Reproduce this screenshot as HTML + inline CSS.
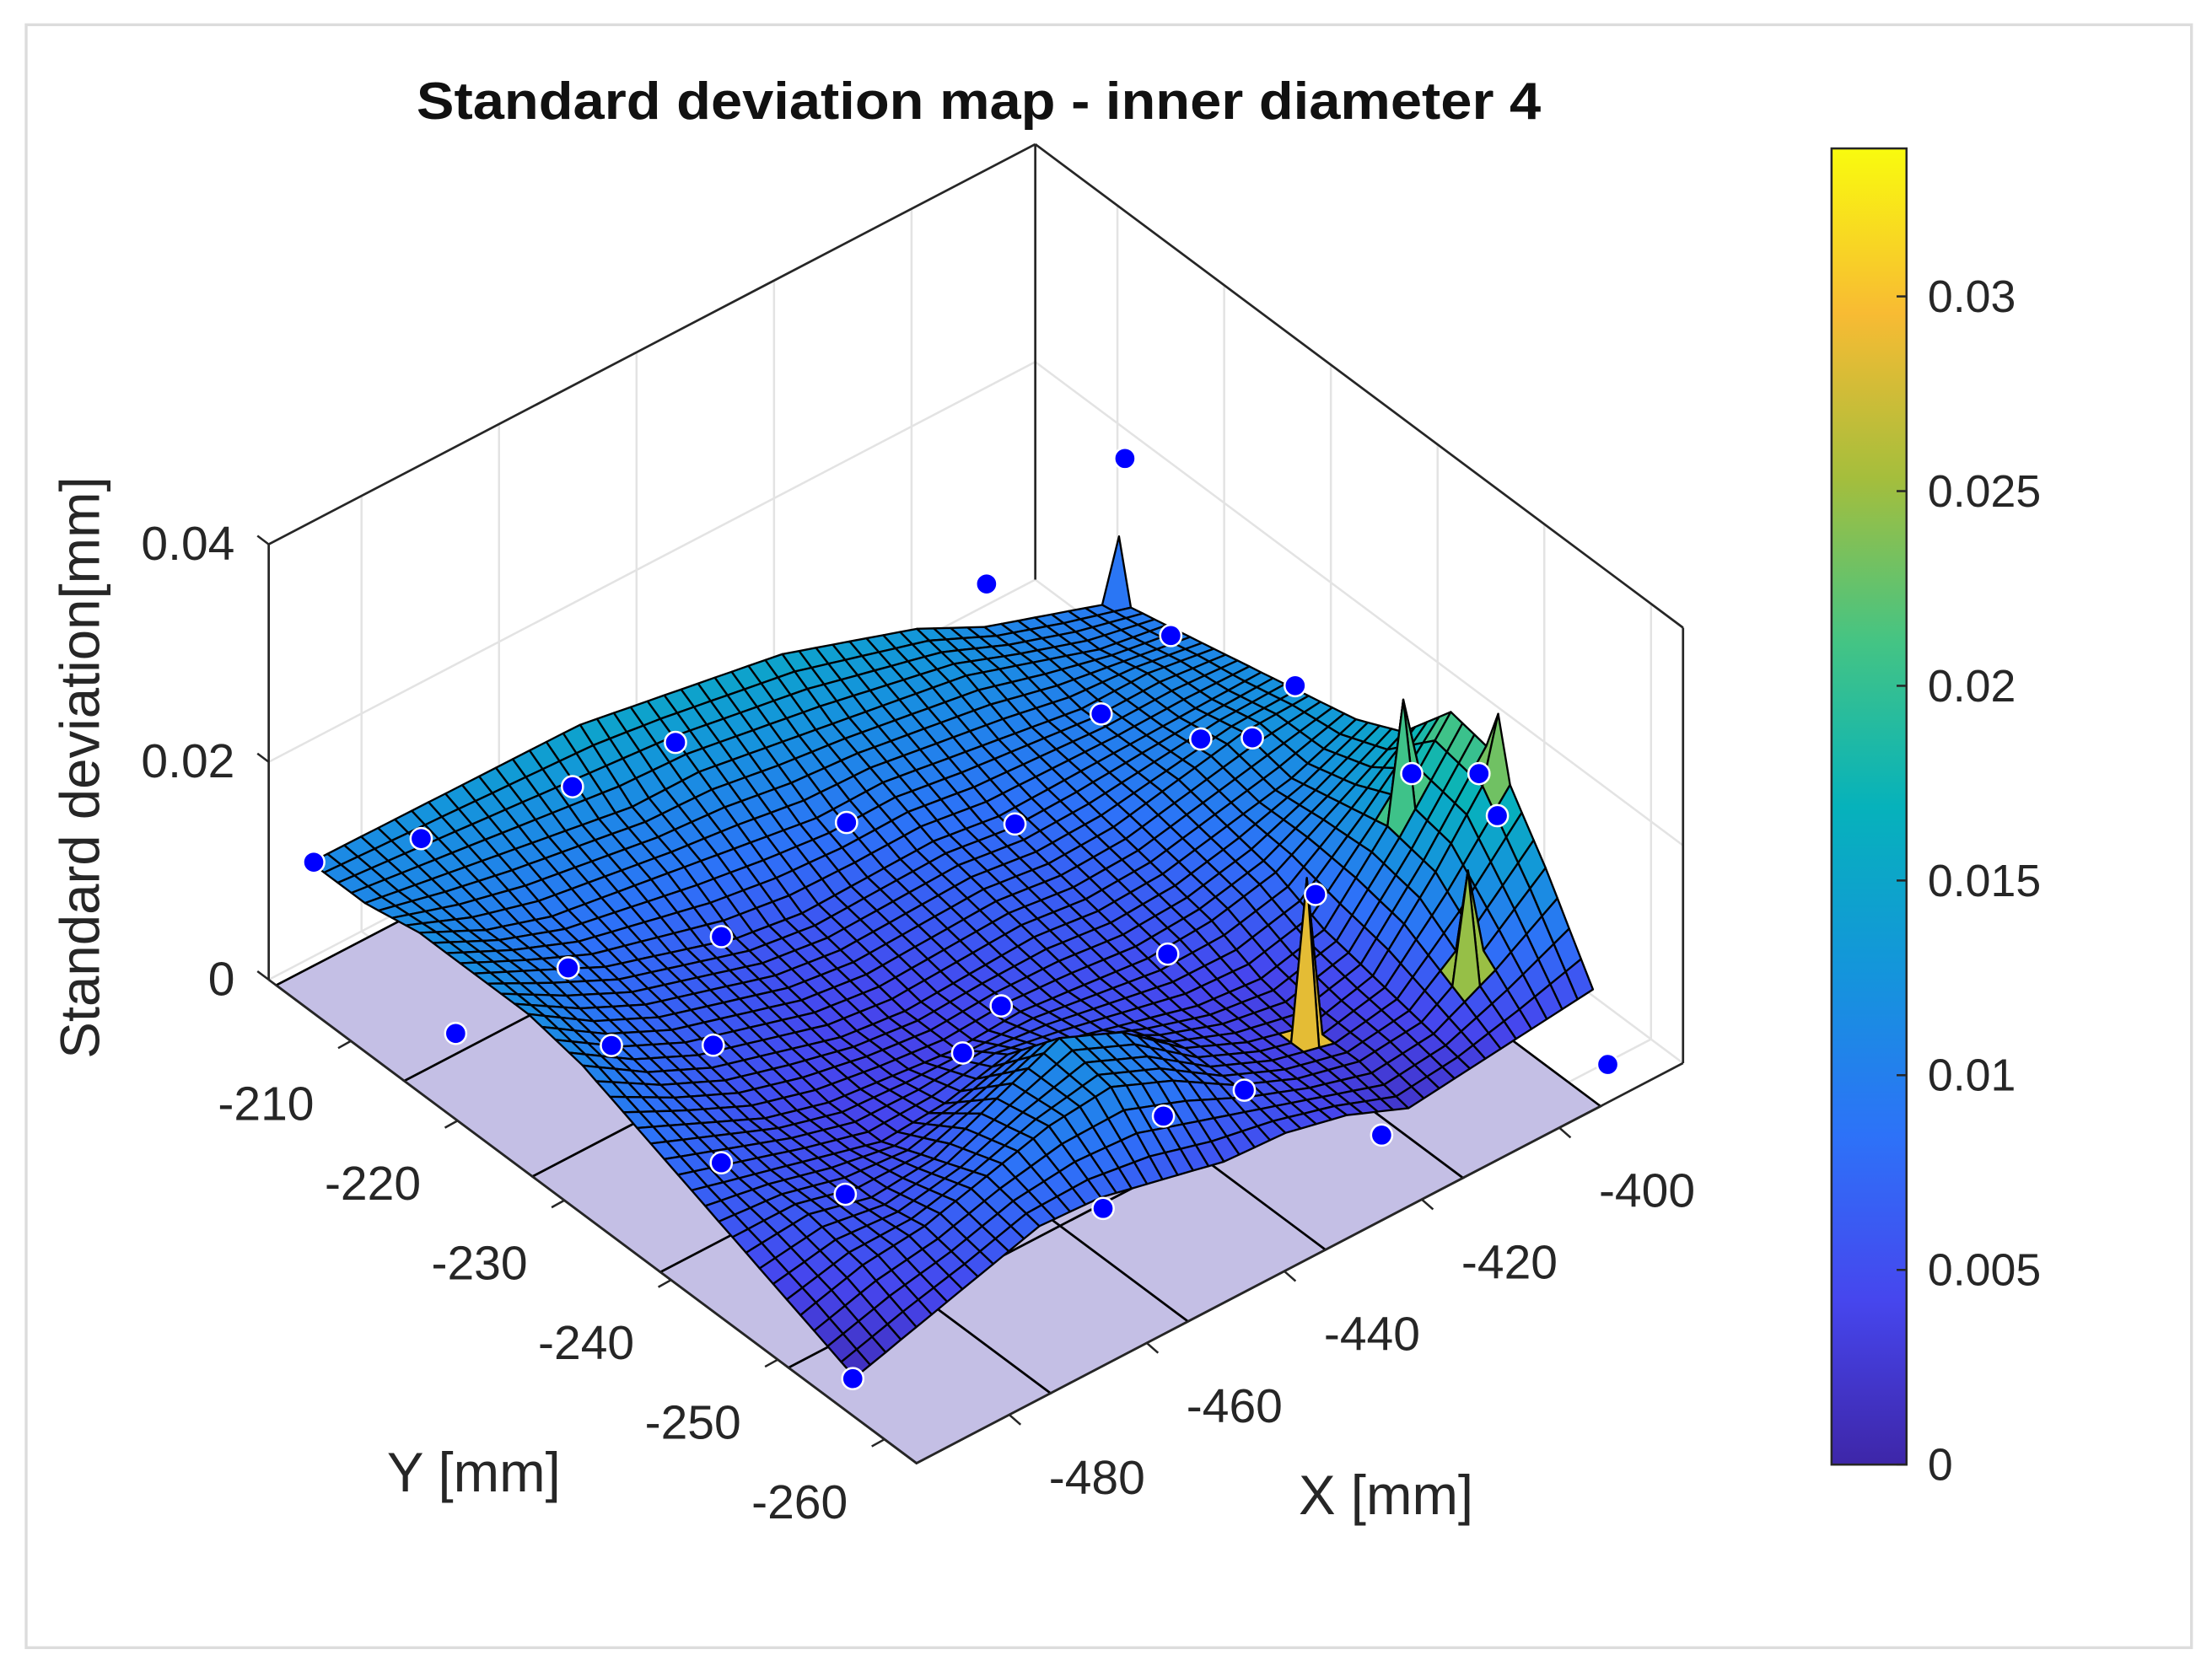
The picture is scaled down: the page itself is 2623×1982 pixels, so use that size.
<!DOCTYPE html>
<html><head><meta charset="utf-8"><title>Standard deviation map</title>
<style>
html,body{margin:0;padding:0;background:#fff;}
svg{display:block;}
text{font-family:"Liberation Sans",Arial,sans-serif;}
</style></head>
<body>
<svg id="chart" width="2623" height="1982" viewBox="0 0 1564 1182" preserveAspectRatio="none" xmlns="http://www.w3.org/2000/svg">
<rect x="18.5" y="17.5" width="1531" height="1148" fill="#fff" stroke="#dcdcdc" stroke-width="2"/>
<text x="692" y="84" font-size="37" font-weight="bold" text-anchor="middle" textLength="795" lengthAdjust="spacingAndGlyphs" fill="#111">Standard deviation map - inner diameter 4</text>
<g id="walls"></g>
<g id="floor"></g>
<g id="surface"></g>
<g id="dots"></g>
<g id="axes"></g>
<text transform="translate(70,543) rotate(-90)" font-size="39" text-anchor="middle" fill="#262626">Standard deviation[mm]</text>
<text x="335" y="1055" font-size="39" text-anchor="middle" fill="#262626">Y [mm]</text>
<text x="980" y="1071" font-size="39" text-anchor="middle" fill="#262626">X [mm]</text>
<defs>
<linearGradient id="parula" x1="0" y1="1" x2="0" y2="0">
<stop offset="0" stop-color="#3e26a8"/><stop offset="0.125" stop-color="#4646ee"/><stop offset="0.25" stop-color="#2d72f8"/><stop offset="0.375" stop-color="#1495db"/><stop offset="0.5" stop-color="#06b2bb"/><stop offset="0.625" stop-color="#44c484"/><stop offset="0.75" stop-color="#a5be3c"/><stop offset="0.875" stop-color="#f8bb33"/><stop offset="1" stop-color="#f9fb0e"/>
</linearGradient>
</defs>
<rect x="1295" y="105" width="53" height="931" fill="url(#parula)" stroke="#262626" stroke-width="1.5"/>
<g id="cbticks"></g>
</svg>
<script>
// ---- data ----
const xTicks = [-480, -460, -440, -420, -400];
const yTicks = [-260, -250, -240, -230, -220, -210];
const zTicks = [0, 0.02, 0.04];
const zTickLabels = ["0", "0.02", "0.04"];
const cbTicks = [0, 0.005, 0.01, 0.015, 0.02, 0.025, 0.03];
const cbTickLabels = ["0", "0.005", "0.01", "0.015", "0.02", "0.025", "0.03"];
// measured area corners (front-left, front-right, back-right, back-left) in mm
const surfCornerX = [-490.2, -387.5, -388.6, -490.2];
const surfCornerY = [-255.1, -258.1, -214.4, -204.1];
// surface heights in micrometres (0.001 mm); rows front->back, columns left->right
const surfZum = [
 [1, 3, 5, 7, 7, 6, 5, 5, 4, 2, 3, 4, 5],
 [3, 5, 6, 8, 10, 11, 9, 6, 4, 3, 4, 8, 13],
 [5, 6, 5, 6, 9, 12, 10, 6, 4, 3, 5, 12, 20],
 [7, 6, 5, 4, 5, 7, 6, 5, 4, 4, 6, 13, 21],
 [9, 7, 5, 4, 4, 4, 5, 5, 5, 6, 8, 12, 16],
 [11, 8, 6, 5, 4, 4, 5, 6, 6, 7, 9, 11, 14],
 [12, 9, 7, 6, 5, 5, 6, 7, 7, 8, 10, 12, 13],
 [12, 10, 8, 7, 6, 6, 7, 8, 8, 9, 10, 11, 12],
 [12, 10, 9, 9, 9, 9, 9, 10, 10, 10, 10, 11, 11],
 [11, 11, 11, 11, 11, 12, 12, 12, 12, 12, 11, 10, 10],
 [11, 12, 13, 14, 15, 15, 15, 15, 14, 13, 11, 10, 9]
];
// narrow spikes in the measured surface
const spikeX = [-416.5, -398.6, -393.6, -388.6, -388.6];
const spikeY = [-248.9, -253.3, -244.8, -249.4, -214.4];
const spikeZ = [0.018, 0.016, 0.024, 0.024, 0.015];
const spikeC = [0.033, 0.028, 0.022, 0.024, 0.008];
const dotX = [-489.9,-478.0,-459.1,-445.2,-402.9,-387.9,-389.3,-384.4,-382.0,-388.6,-417.3,-455.8,-490.5,-482.0,-489.9,-479.2,-436.0,-420.5,-398.6,-392.8,-403.0,-387.0,-382.5,-457.3,-474.0,-421.1,-404.1,-438.8,-469.2,-450.0,-428.9,-438.8,-472.5];
const dotY = [-204.2,-206.6,-208.6,-209.3,-211.2,-214.5,-219.7,-228.2,-245.6,-260.2,-257.5,-256.2,-255.1,-237.3,-217.5,-225.2,-219.4,-225.2,-228.5,-229.6,-222.0,-240.8,-244.2,-221.4,-217.8,-239.9,-242.8,-235.7,-228.3,-239.3,-252.1,-250.9,-242.8];
const dotZ = [0.011,0.011,0.011,0.011,0.013,0.022,0.010,0.010,0.010,0.000,0.001,0.006,0.001,0.005,0.005,0.006,0.008,0.007,0.010,0.009,0.009,0.012,0.013,0.006,0.006,0.006,0.008,0.004,0.005,0.006,0.005,0.005,0.003];
const patchX = [-493.5, -474, -454, -434, -414, -394];
const patchY = [-263, -251, -239, -227, -215, -203];
// ---- axis setup ----
const XMIN = -493.5, XMAX = -382, YMIN = -263, YMAX = -202.3, ZMAX = 0.04, CMAX = 0.0338;
const NS = 'http://www.w3.org/2000/svg';
function P(x, y, z) {
  const a = (x - XMIN) / (XMAX - XMIN), b = (y - YMIN) / (YMAX - YMIN);
  return [648 + 542 * a - 458 * b, 1035 - 283 * a - 342 * b - z / ZMAX * 308];
}
function cbY(v) { return 1036 - v / CMAX * 931; }
const stops = [[0,62,38,168],[0.125,70,70,238],[0.25,45,114,248],[0.375,20,149,219],[0.5,6,178,187],[0.625,68,196,132],[0.75,165,190,60],[0.875,248,187,51],[1,249,251,14]];
function parula(t) {
  t = Math.max(0, Math.min(1, t));
  for (let i = 1; i < stops.length; i++) {
    if (t <= stops[i][0]) {
      const s0 = stops[i-1], s1 = stops[i], f = (t - s0[0]) / (s1[0] - s0[0]);
      return 'rgb(' + [1,2,3].map(k => Math.round(s0[k] + f * (s1[k] - s0[k]))).join(',') + ')';
    }
  }
  return 'rgb(249,251,14)';
}
function el(tag, attrs, parent) {
  const e = document.createElementNS(NS, tag);
  for (const k in attrs) e.setAttribute(k, attrs[k]);
  parent.appendChild(e);
  return e;
}
function pts(arr) { return arr.map(p => p[0].toFixed(1) + ',' + p[1].toFixed(1)).join(' '); }
function line(g, p1, p2, stroke, w) {
  return el('line', {x1: p1[0], y1: p1[1], x2: p2[0], y2: p2[1], stroke: stroke, 'stroke-width': w}, g);
}
// ---- walls with gridlines ----
const walls = document.getElementById('walls');
for (const xv of xTicks) {
  const ln = line(walls, P(xv, YMAX, 0), P(xv, YMAX, ZMAX), '#e3e3e3', 1.5);
  
  
  const fl = line(walls, P(xv, YMIN, 0), P(xv, YMAX, 0), '#e3e3e3', 1.5);
  
  
}
for (const yv of yTicks) {
  const ln = line(walls, P(XMAX, yv, 0), P(XMAX, yv, ZMAX), '#e3e3e3', 1.5);
  
  
  const fl = line(walls, P(XMIN, yv, 0), P(XMAX, yv, 0), '#e3e3e3', 1.5);
  
  
}
for (const zv of zTicks) {
  const l1 = line(walls, P(XMIN, YMAX, zv), P(XMAX, YMAX, zv), '#e3e3e3', 1.5);
  
  
  const l2 = line(walls, P(XMAX, YMAX, zv), P(XMAX, YMIN, zv), '#e3e3e3', 1.5);
  
  
}
// ---- floor patch ----
const floor = document.getElementById('floor');
for (let i = 0; i < patchX.length - 1; i++) {
  for (let j = 0; j < patchY.length - 1; j++) {
    const q = [P(patchX[i], patchY[j], 0), P(patchX[i+1], patchY[j], 0), P(patchX[i+1], patchY[j+1], 0), P(patchX[i], patchY[j+1], 0)];
    const pg = el('polygon', {points: pts(q), fill: '#c4bfe5', stroke: '#000', 'stroke-width': 1.6}, floor);
    
    
  }
}
// ---- surface (bilinear rendering subdivisions + spikes) ----
const surface = document.getElementById('surface');
const SUB = 4;
const NCOL = surfZum[0].length, NROW = surfZum.length;
const NI = (NCOL - 1) * SUB, NJ = (NROW - 1) * SUB;
function vxy(I, J) {
  const u = I / NI, v = J / NJ;
  const w = [(1-u)*(1-v), u*(1-v), u*v, (1-u)*v];
  let x = 0, y = 0;
  for (let k = 0; k < 4; k++) { x += w[k] * surfCornerX[k]; y += w[k] * surfCornerY[k]; }
  return [x, y];
}
const spikeAt = {};
for (let s = 0; s < spikeX.length; s++) {
  let best = null, bd = 1e9;
  for (let I = 0; I <= NI; I++) for (let J = 0; J <= NJ; J++) {
    const q = vxy(I, J);
    const d = Math.hypot(q[0] - spikeX[s], q[1] - spikeY[s]);
    if (d < bd) { bd = d; best = I + ',' + J; }
  }
  spikeAt[best] = s;
}
function sample(I, J) {
  const ci = Math.min(Math.floor(I / SUB), NCOL - 2), cj = Math.min(Math.floor(J / SUB), NROW - 2);
  const fi = I / SUB - ci, fj = J / SUB - cj;
  let z = ((1-fi)*(1-fj)*surfZum[cj][ci] + fi*(1-fj)*surfZum[cj][ci+1] + (1-fi)*fj*surfZum[cj+1][ci] + fi*fj*surfZum[cj+1][ci+1]) / 1000;
  let c = z;
  const key = I + ',' + J;
  if (key in spikeAt) { z = spikeZ[spikeAt[key]]; c = spikeC[spikeAt[key]]; }
  const q = vxy(I, J);
  return [q[0], q[1], z, c];
}
const cells = [];
for (let I = 0; I < NI; I++) for (let J = 0; J < NJ; J++) {
  const q = vxy(I + 0.5, J + 0.5);
  cells.push([I, J, (q[0] - XMIN) / (XMAX - XMIN) + (q[1] - YMIN) / (YMAX - YMIN)]);
}
cells.sort((A, B) => B[2] - A[2]);
for (const [I, J] of cells) {
  const c = [sample(I, J), sample(I+1, J), sample(I+1, J+1), sample(I, J+1)];
  const cmax = Math.max(c[0][3], c[1][3], c[2][3], c[3][3]);
  const cavg = (c[0][3] + c[1][3] + c[2][3] + c[3][3]) / 4;
  const cv = cmax > 0.02 ? cmax * 0.8 + cavg * 0.2 : cavg;
  const pg = el('polygon', {points: pts(c.map(v => P(v[0], v[1], v[2]))), fill: parula(cv / CMAX), stroke: '#000', 'stroke-width': 1.4, 'stroke-linejoin': 'round'}, surface);
  
  
}
// ---- measurement dots ----
const dots = document.getElementById('dots');
for (let k = 0; k < dotX.length; k++) {
  const p = P(dotX[k], dotY[k], dotZ[k]);
  const c = el('circle', {cx: p[0], cy: p[1], r: 7.5, fill: '#0000ff', stroke: '#fff', 'stroke-width': 1.5}, dots);
  
  
}
// ---- axes box ----
const axes = document.getElementById('axes');
const edges = [
  [[XMIN, YMAX, 0], [XMIN, YMAX, ZMAX]], [[XMAX, YMAX, 0], [XMAX, YMAX, ZMAX]], [[XMAX, YMIN, 0], [XMAX, YMIN, ZMAX]],
  [[XMIN, YMAX, ZMAX], [XMAX, YMAX, ZMAX]], [[XMAX, YMAX, ZMAX], [XMAX, YMIN, ZMAX]],
  [[XMIN, YMAX, 0], [XMIN, YMIN, 0]], [[XMIN, YMIN, 0], [XMAX, YMIN, 0]]
];
for (const [a, b] of edges) {
  const ln = line(axes, P(a[0], a[1], a[2]), P(b[0], b[1], b[2]), '#262626', 1.6);
  
  
}
for (let k = 0; k < zTicks.length; k++) {
  const p = P(XMIN, YMAX, zTicks[k]);
  line(axes, p, [p[0] - 8, p[1] - 6], '#262626', 1.5);
  const t = el('text', {x: p[0] - 24, y: p[1] + 11, 'font-size': 34, 'text-anchor': 'end', fill: '#262626'}, axes);
  t.textContent = zTickLabels[k];
  
  
}
for (const yv of yTicks) {
  const p = P(XMIN, yv, 0);
  line(axes, p, [p[0] - 9, p[1] + 5], '#262626', 1.5);
  const t = el('text', {x: p[0] - 60, y: p[1] + 56, 'font-size': 34, 'text-anchor': 'middle', fill: '#262626'}, axes);
  t.textContent = String(yv);
  
  
}
for (const xv of xTicks) {
  const p = P(xv, YMIN, 0);
  line(axes, p, [p[0] + 8, p[1] + 7], '#262626', 1.5);
  const t = el('text', {x: p[0] + 62, y: p[1] + 56, 'font-size': 34, 'text-anchor': 'middle', fill: '#262626'}, axes);
  t.textContent = String(xv);
  
  
}
// ---- colorbar ticks ----
const cbt = document.getElementById('cbticks');
for (let k = 0; k < cbTicks.length; k++) {
  const y = cbY(cbTicks[k]);
  line(cbt, [1348, y], [1341, y], '#262626', 1.5);
  const t = el('text', {x: 1363, y: y + 11, 'font-size': 32, fill: '#262626'}, cbt);
  t.textContent = cbTickLabels[k];
  
  
}
</script>
</body></html>
